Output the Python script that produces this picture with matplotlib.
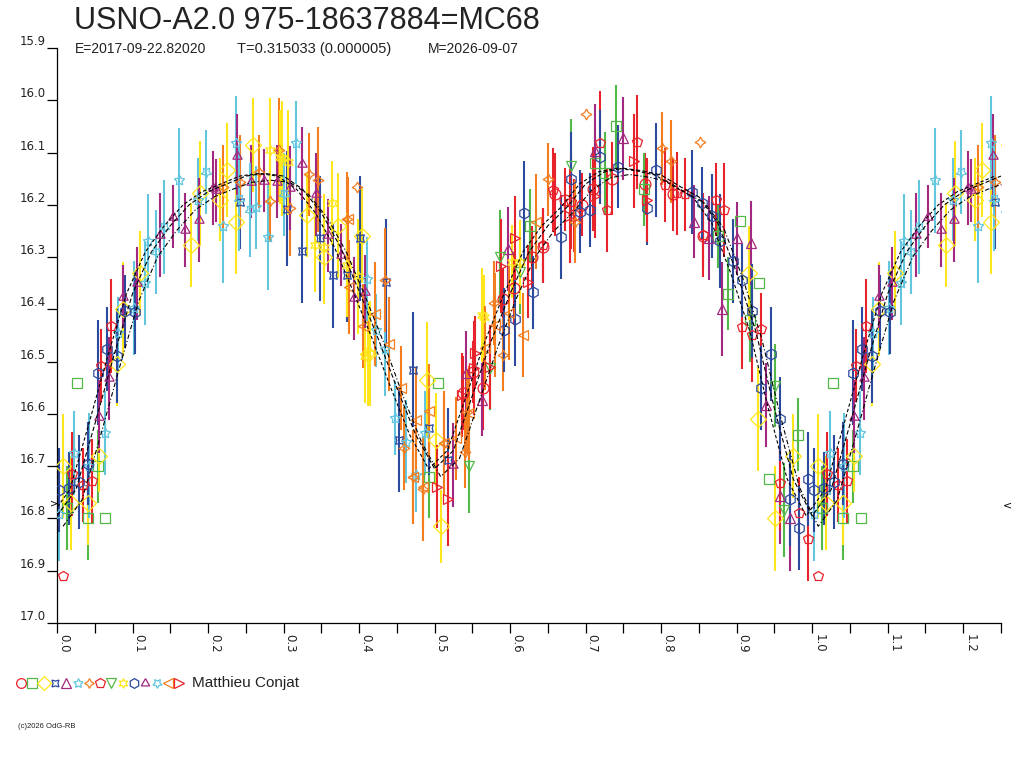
import matplotlib.pyplot as plt
import numpy as np

plt.rcParams['font.family'] = ['Liberation Sans', 'DejaVu Sans']

title = 'USNO-A2.0 975-18637884=MC68'
epoch_txt = 'E=2017-09-22.82020'
period_txt = 'T=0.315033 (0.000005)'
date_txt = 'M=2026-09-07'
observer = 'Matthieu Conjat'
credit = '(c)2026 OdG-RB'
mean_mag = 16.775

# colours used by the observation sets
RED = '#e8232b'
GREEN = '#52b948'
YELLOW = '#ffe61a'
BLUE = '#2c4a9e'
PURPLE = '#a3287f'
CYAN = '#62c6de'
ORANGE = '#f47d20'

# set 1 - red circles
ph1 = [0.538, 0.551, 0.564, 0.591, 0.605, 0.629, 0.644, 0.660, 0.673, 0.685, 0.695, 0.710, 0.735, 0.778, 0.816, 0.856]
mag1 = [16.56, 16.52, 16.55, 16.38, 16.36, 16.30, 16.28, 16.18, 16.19, 16.22, 16.20, 16.17, 16.15, 16.16, 16.18, 16.26]
err1 = [0.07, 0.06, 0.08, 0.06, 0.07, 0.06, 0.07, 0.08, 0.06, 0.07, 0.06, 0.08, 0.07, 0.06, 0.07, 0.06]

# set 2 - green squares
ph2 = [0.013, 0.027, 0.041, 0.054, 0.064, 0.493, 0.504, 0.626, 0.713, 0.726, 0.740, 0.777, 0.875, 0.889, 0.904, 0.917, 0.930, 0.943, 0.981]
mag2 = [16.78, 16.54, 16.80, 16.70, 16.80, 16.72, 16.54, 16.24, 16.12, 16.14, 16.05, 16.17, 16.26, 16.37, 16.23, 16.42, 16.35, 16.725, 16.64]
err2 = [0.08, 0.0, 0.08, 0.07, 0.0, 0.08, 0.0, 0.07, 0.07, 0.08, 0.08, 0.07, 0.06, 0.07, 0.0, 0.08, 0.0, 0.0, 0.07]

# set 3 - yellow diamonds
ph3 = [0.008, 0.018, 0.041, 0.055, 0.079, 0.088, 0.110, 0.177, 0.189, 0.216, 0.225, 0.237, 0.260, 0.331, 0.353,
       0.372, 0.404, 0.412, 0.490, 0.502, 0.509, 0.916, 0.928, 0.951, 0.975]
mag3 = [16.70, 16.77, 16.77, 16.68, 16.505, 16.40, 16.33, 16.277, 16.178, 16.19, 16.133, 16.232, 16.086, 16.22, 16.30,
        16.24, 16.26, 16.485, 16.535, 16.65, 16.815, 16.33, 16.61, 16.80, 16.68]
err3 = [0.10, 0.09, 0.08, 0.07, 0.08, 0.09, 0.08, 0.08, 0.10, 0.08, 0.09, 0.10, 0.09, 0.08, 0.09,
        0.10, 0.09, 0.10, 0.11, 0.09, 0.07, 0.09, 0.10, 0.10, 0.08]

# set 4 - blue bowties
ph4 = [0.242, 0.304, 0.325, 0.348, 0.365, 0.384, 0.401, 0.436, 0.453, 0.472, 0.493, 0.518]
mag4 = [16.194, 16.208, 16.288, 16.264, 16.335, 16.335, 16.264, 16.347, 16.65, 16.516, 16.627, 16.688]
err4 = [0.09, 0.11, 0.10, 0.12, 0.10, 0.09, 0.12, 0.12, 0.10, 0.11, 0.09, 0.10]

# set 5 - purple triangles
ph5 = [0.542, 0.563, 0.597, 0.713, 0.750, 0.844, 0.863, 0.881, 0.900, 0.919, 0.939, 0.957, 0.970]
mag5 = [16.522, 16.573, 16.285, 16.098, 16.073, 16.232, 16.264, 16.40, 16.264, 16.273, 16.583, 16.758, 16.80]
err5 = [0.08, 0.07, 0.08, 0.09, 0.08, 0.07, 0.08, 0.09, 0.07, 0.08, 0.08, 0.09, 0.10]

# set 6 - cyan stars
ph6 = [0.003, 0.023, 0.042, 0.063, 0.081, 0.102, 0.117, 0.121, 0.162, 0.187, 0.220, 0.237, 0.263, 0.280, 0.317,
       0.410, 0.423, 0.434, 0.448, 0.462, 0.476, 0.487]
mag6 = [16.792, 16.675, 16.699, 16.637, 16.446, 16.398, 16.349, 16.27, 16.153, 16.19, 16.24, 16.081, 16.205, 16.262, 16.081,
        16.342, 16.44, 16.475, 16.608, 16.653, 16.717, 16.637]
err6 = [0.09, 0.08, 0.10, 0.08, 0.07, 0.09, 0.08, 0.09, 0.10, 0.08, 0.11, 0.09, 0.08, 0.10, 0.08,
        0.08, 0.07, 0.09, 0.07, 0.08, 0.07, 0.08]

# set 7 - orange four-point stars
ph7 = [0.220, 0.242, 0.267, 0.282, 0.294, 0.309, 0.334, 0.346, 0.384, 0.397, 0.434, 0.459, 0.471, 0.484, 0.512,
       0.540, 0.543, 0.578, 0.591, 0.650, 0.686, 0.701, 0.801, 0.813, 0.852]
mag7 = [16.165, 16.156, 16.137, 16.192, 16.095, 16.207, 16.142, 16.152, 16.227, 16.165, 16.344, 16.666, 16.721, 16.743, 16.655,
        16.672, 16.596, 16.388, 16.487, 16.151, 16.232, 16.026, 16.092, 16.117, 16.08]
err7 = [0.08, 0.09, 0.07, 0.08, 0.10, 0.09, 0.08, 0.10, 0.09, 0.0, 0.10, 0.08, 0.09, 0.10, 0.09,
        0.07, 0.08, 0.08, 0.07, 0.07, 0.08, 0.0, 0.07, 0.08, 0.0]

# set 8 - red pentagons
ph8 = [0.008, 0.020, 0.034, 0.046, 0.058, 0.071, 0.644, 0.657, 0.680, 0.719, 0.728, 0.768, 0.805, 0.821, 0.832,
       0.856, 0.872, 0.883, 0.907, 0.920, 0.932, 0.957, 0.983, 0.994]
mag8 = [16.91, 16.715, 16.736, 16.728, 16.508, 16.431, 16.277, 16.172, 16.194, 16.082, 16.21, 16.079, 16.162, 16.178, 16.18,
        16.258, 16.19, 16.21, 16.434, 16.449, 16.438, 16.733, 16.79, 16.839]
err8 = [0.0, 0.08, 0.07, 0.08, 0.07, 0.09, 0.07, 0.08, 0.09, 0.10, 0.08, 0.09, 0.07, 0.08, 0.07,
        0.08, 0.07, 0.09, 0.08, 0.09, 0.07, 0.09, 0.07, 0.08]

# set 9 - green triangles down
ph9 = [0.546, 0.574, 0.587, 0.613, 0.680, 0.951, 0.963]
mag9 = [16.70, 16.513, 16.30, 16.328, 16.126, 16.546, 16.784]
err9 = [0.09, 0.08, 0.09, 0.08, 0.09, 0.08, 0.09]

# set 10 - yellow six-point stars
ph10 = [0.282, 0.295, 0.298, 0.306, 0.342, 0.353, 0.364, 0.384, 0.399, 0.408, 0.415, 0.563, 0.565, 0.602, 0.613]
mag10 = [16.095, 16.108, 16.111, 16.119, 16.277, 16.28, 16.197, 16.315, 16.337, 16.49, 16.484, 16.411, 16.414, 16.309, 16.309]
err10 = [0.10, 0.09, 0.11, 0.10, 0.09, 0.10, 0.08, 0.10, 0.11, 0.09, 0.10, 0.09, 0.08, 0.07, 0.08]

# set 11 - blue hexagons
ph11 = [0.003, 0.016, 0.029, 0.041, 0.054, 0.066, 0.079, 0.090, 0.103, 0.592, 0.607, 0.619, 0.630, 0.668, 0.680,
        0.693, 0.706, 0.719, 0.743, 0.781, 0.793, 0.841, 0.854, 0.867, 0.878, 0.895, 0.907, 0.920, 0.932, 0.945,
        0.958, 0.970, 0.983, 0.995]
mag11 = [16.746, 16.742, 16.73, 16.695, 16.521, 16.476, 16.49, 16.404, 16.406, 16.44, 16.418, 16.216, 16.367, 16.261, 16.151,
         16.213, 16.21, 16.108, 16.127, 16.207, 16.134, 16.175, 16.197, 16.221, 16.27, 16.307, 16.344, 16.404, 16.551, 16.485,
         16.61, 16.762, 16.818, 16.725]
err11 = [0.08, 0.07, 0.09, 0.08, 0.10, 0.08, 0.09, 0.07, 0.08, 0.08, 0.09, 0.10, 0.07, 0.08, 0.09,
         0.08, 0.07, 0.09, 0.08, 0.07, 0.09, 0.08, 0.07, 0.08, 0.09, 0.08, 0.07, 0.09, 0.08, 0.09,
         0.08, 0.09, 0.08, 0.09]

# set 12 - purple double triangles
ph12 = [0.055, 0.069, 0.088, 0.106, 0.137, 0.153, 0.170, 0.188, 0.206, 0.210, 0.239, 0.257, 0.274, 0.291, 0.308,
        0.325, 0.343, 0.359, 0.376, 0.393, 0.408, 0.524]
mag12 = [16.605, 16.532, 16.376, 16.35, 16.258, 16.223, 16.248, 16.229, 16.168, 16.172, 16.107, 16.156, 16.154, 16.156, 16.168,
         16.121, 16.18, 16.258, 16.296, 16.379, 16.366, 16.698]
err12 = [0.07, 0.08, 0.06, 0.07, 0.08, 0.06, 0.07, 0.08, 0.07, 0.06, 0.08, 0.07, 0.06, 0.07, 0.08,
         0.07, 0.08, 0.07, 0.06, 0.08, 0.07, 0.08]

# set 13 - cyan down stars
ph13 = [0.131, 0.142, 0.197, 0.241, 0.256, 0.300]
mag13 = [16.29, 16.242, 16.137, 16.188, 16.21, 16.18]
err13 = [0.08, 0.09, 0.08, 0.10, 0.09, 0.08]

# set 14 - orange triangles left
ph14 = [0.385, 0.386, 0.405, 0.421, 0.439, 0.456, 0.472, 0.475, 0.484, 0.492, 0.512, 0.528, 0.545, 0.567, 0.580,
        0.598, 0.617, 0.634]
mag14 = [16.227, 16.358, 16.432, 16.409, 16.466, 16.551, 16.72, 16.611, 16.739, 16.595, 16.656, 16.647, 16.599, 16.474, 16.43,
         16.407, 16.449, 16.232]
err14 = [0.08, 0.09, 0.08, 0.10, 0.09, 0.08, 0.09, 0.10, 0.08, 0.09, 0.10, 0.08, 0.09, 0.08, 0.10,
         0.09, 0.08, 0.09]

# set 15 - red triangles right
ph15 = [0.503, 0.518, 0.536, 0.552, 0.553, 0.574, 0.588, 0.607, 0.624, 0.679, 0.713, 0.764, 0.781]
mag15 = [16.739, 16.763, 16.564, 16.513, 16.483, 16.51, 16.317, 16.263, 16.347, 16.221, 16.183, 16.116, 16.191]
err15 = [0.08, 0.09, 0.08, 0.09, 0.07, 0.08, 0.09, 0.08, 0.07, 0.09, 0.08, 0.09, 0.08]

# fitted light curves (phase grid 0..0.975)
curve_phase = [0.000, 0.025, 0.050, 0.075, 0.100, 0.125, 0.150, 0.175, 0.200, 0.225,
               0.250, 0.275, 0.300, 0.325, 0.350, 0.375, 0.400, 0.425, 0.450, 0.475,
               0.500, 0.525, 0.550, 0.575, 0.600, 0.625, 0.650, 0.675, 0.700, 0.725,
               0.750, 0.775, 0.800, 0.825, 0.850, 0.875, 0.900, 0.925, 0.950, 0.975]
curve_mag = [16.795, 16.745, 16.62, 16.49, 16.37, 16.29, 16.24, 16.20, 16.175, 16.16,
             16.145, 16.14, 16.145, 16.17, 16.215, 16.28, 16.365, 16.455, 16.55, 16.64,
             16.705, 16.67, 16.565, 16.46, 16.37, 16.29, 16.24, 16.205, 16.16, 16.137,
             16.13, 16.135, 16.143, 16.165, 16.185, 16.235, 16.33, 16.44, 16.59, 16.725]
curve_deep = [16.815, 16.765, 16.64, 16.51, 16.385, 16.30, 16.25, 16.21, 16.185, 16.17,
              16.157, 16.153, 16.157, 16.18, 16.225, 16.29, 16.375, 16.465, 16.565, 16.655,
              16.72, 16.685, 16.58, 16.475, 16.38, 16.30, 16.25, 16.215, 16.172, 16.148,
              16.142, 16.147, 16.155, 16.177, 16.197, 16.245, 16.34, 16.455, 16.605, 16.74]

series = [
    (ph1, mag1, err1, 'o', RED),
    (ph2, mag2, err2, 's', GREEN),
    (ph3, mag3, err3, 'D', YELLOW),
    (ph4, mag4, err4, (4, 1, 45), BLUE),
    (ph5, mag5, err5, '^', PURPLE),
    (ph6, mag6, err6, (5, 1, 0), CYAN),
    (ph7, mag7, err7, (4, 1, 0), ORANGE),
    (ph8, mag8, err8, 'p', RED),
    (ph9, mag9, err9, 'v', GREEN),
    (ph10, mag10, err10, (6, 1, 0), YELLOW),
    (ph11, mag11, err11, 'h', BLUE),
    (ph12, mag12, err12, (3, 1, 0), PURPLE),
    (ph13, mag13, err13, (5, 1, 180), CYAN),
    (ph14, mag14, err14, '<', ORANGE),
    (ph15, mag15, err15, '>', RED),
]

W, H = 1024, 768
fig = plt.figure(figsize=(W / 100, H / 100), dpi=100)
ax = fig.add_axes([57 / W, 1 - 623 / H, 944 / W, 575 / H])

XMAX = 1.25
TICKFONT = 'DejaVu Sans'


def unfold(p, m, e=None):
    # repeat the start of the cycle after phase 1
    p = np.asarray(p); m = np.asarray(m)
    extra = p <= XMAX - 1 + 0.01
    pp = np.concatenate([p, p[extra] + 1])
    mm = np.concatenate([m, m[extra]])
    if e is None:
        return pp, mm
    e = np.asarray(e)
    return pp, mm, np.concatenate([e, e[extra]])


for ph, mag, err, mk, col in series:
    p, m, e = unfold(ph, mag, err)
    ax.errorbar(p, m, yerr=e, fmt='none', ecolor=col, elinewidth=1.5, capsize=0, zorder=2)
    ax.plot(p, m, ls='none', marker=mk, ms=7.8, mfc='none', mec=col, mew=0.9, zorder=3)

# fitted curves
cp, cm = unfold(curve_phase, curve_mag)
_, cd = unfold(curve_phase, curve_deep)
order = np.argsort(cp)
ax.plot(cp[order] - 0.008, cm[order], color='black', lw=0.8, ls=(0, (3, 2)), zorder=5)
ax.plot(cp[order], cm[order], color='black', lw=0.8, ls=(0, (4, 2)), zorder=5)
ax.plot(cp[order] + 0.008, cd[order], color='black', lw=0.8, ls=(0, (4, 2, 1, 2)), zorder=5)

ax.set_xlim(0, XMAX)
ax.set_ylim(17.0, 15.9)

for s in ['top', 'right']:
    ax.spines[s].set_visible(False)
for s in ['left', 'bottom']:
    ax.spines[s].set_linewidth(0.9)

yt = np.round(np.arange(15.9, 17.01, 0.1), 1)
ax.set_yticks(yt)
ax.set_yticklabels(['%.1f' % v for v in yt], fontsize=8.5, va='bottom', family=TICKFONT, color='#222222')
xt = np.round(np.arange(0, 1.21, 0.1), 1)
ax.set_xticks(xt)
ax.set_xticklabels(['%.1f' % v for v in xt], fontsize=8.5, rotation=-90, ha='left', va='top',
                   family=TICKFONT, color='#222222')
ax.set_xticks(np.arange(0.05, 1.26, 0.1), minor=True)
ax.tick_params(axis='both', which='both', direction='out', length=7, width=0.9, pad=1)
ax.tick_params(axis='y', pad=1)

# mean level marks
ax.text(-0.0092, mean_mag - 0.004, '>', ha='left', va='center', fontsize=7, family=TICKFONT, clip_on=False)
ax.text(XMAX + 0.002, mean_mag, '<', ha='left', va='center', fontsize=8, family=TICKFONT, clip_on=False)

fig.text(74 / W, 1 - 29 / H, title, fontsize=22, va='baseline', color='#222222')
fig.text(75 / W, 1 - 53 / H, epoch_txt, fontsize=10, va='baseline', color='#222222')
fig.text(237 / W, 1 - 53 / H, period_txt, fontsize=10.5, va='baseline', color='#222222')
fig.text(428 / W, 1 - 53 / H, date_txt, fontsize=10, va='baseline', color='#222222')

# marker key
for i, (_, _, _, mk, col) in enumerate(series):
    x = (21 + i * 11.3) / W
    fig.add_artist(plt.Line2D([x], [1 - 683 / H], marker=mk, ms=7, mfc='none', mec=col, mew=0.9,
                              ls='none', transform=fig.transFigure))
fig.text(192 / W, 1 - 683 / H, observer, fontsize=11, va='center', color='#222222')
fig.text(18 / W, 1 - 726 / H, credit, fontsize=5.5, va='center', color='#222222')

fig.savefig('out.png', dpi=100)
